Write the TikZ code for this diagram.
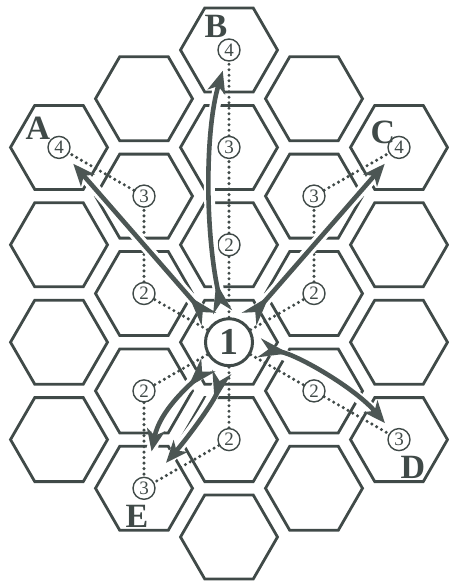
\documentclass[tikz,border=0pt]{standalone}
\usepackage{fontspec}
\setmainfont{Liberation Serif}
\usetikzlibrary{shapes.geometric,arrows.meta}
\definecolor{hexgray}{RGB}{64,74,72}
\definecolor{arrowgray}{RGB}{76,86,84}
\begin{document}
\begin{tikzpicture}[
    x=1pt, y=-1pt,
    hexcell/.style={regular polygon, regular polygon sides=6, draw=hexgray, line width=2.8pt, minimum size=97pt, inner sep=0pt},
    stepnum/.style={circle, draw=hexgray, fill=white, line width=1.4pt, minimum size=22pt, inner sep=0pt, text=hexgray, font=\fontsize{19}{19}\selectfont},
    startnum/.style={circle, draw=hexgray, fill=white, line width=3pt, minimum size=47pt, inner sep=0pt, text=hexgray, font=\fontsize{38}{38}\selectfont\bfseries},
    hexlabel/.style={inner sep=0pt, text=hexgray, font=\fontsize{34}{34}\selectfont\bfseries},
    route/.style={hexgray, line width=3.4pt, line cap=round, dash pattern=on 0pt off 5.5pt},
    move/.style={arrowgray, line width=4.6pt, shorten <=6pt, shorten >=10pt,
      {Stealth[reversed, length=30pt, width=19pt, inset=9pt]}-{Stealth[length=22pt, width=18pt, inset=6pt]},
      preaction={draw=white, line width=11pt, -}}
  ]
  \useasboundingbox (0,0) rectangle (449,582);

  % hex grid
  \foreach \col/\ytop/\num in {0/147.4/4, 1/98.7/5, 2/50/6, 3/98.7/5, 4/147.4/4}
    \foreach \row in {1,...,\num}
      \node[hexcell] (h\col\row) at ({59+85*\col}, {\ytop+97.4*(\row-1)}) {};

  % steps
  \node[startnum] (one) at (h24) {1};
  \node[stepnum] (a2) at (h13) {2};
  \node[stepnum] (a3) at (h12) {3};
  \node[stepnum] (a4) at (h01) {4};
  \node[stepnum] (b2) at (h23) {2};
  \node[stepnum] (b3) at (h22) {3};
  \node[stepnum] (b4) at (h21) {4};
  \node[stepnum] (c2) at (h33) {2};
  \node[stepnum] (c3) at (h32) {3};
  \node[stepnum] (c4) at (h41) {4};
  \node[stepnum] (d2) at (h34) {2};
  \node[stepnum] (d3) at (h44) {3};
  \node[stepnum] (e2l) at (h14) {2};
  \node[stepnum] (e2r) at (h25) {2};
  \node[stepnum] (e3) at (h15) {3};

  \node[hexlabel] (la) at (38,128) {A};
  \node[hexlabel] (lb) at (216,26) {B};
  \node[hexlabel] (lc) at (383,132) {C};
  \node[hexlabel] (ld) at (413,467) {D};
  \node[hexlabel] (le) at (137,516) {E};

  % dotted routes
  \draw[route] (one) -- (a2) -- (a3) -- (a4);
  \draw[route] (one) -- (b2) -- (b3) -- (b4);
  \draw[route] (one) -- (c2) -- (c3) -- (c4);
  \draw[route] (one) -- (d2) -- (d3);
  \draw[route] (one) -- (e2l) -- (e3);
  \draw[route] (one) -- (e2r) -- (e3);

  % moves
  \draw[move] (one) -- (a4);
  \draw[move] (one) -- (c4);
  \draw[move] (one) .. controls (205,230) and (205,130) .. (b4);
  \draw[move] (one) .. controls (298,355) and (355,388) .. (d3);
  \draw[move, shorten >=26pt] (one) .. controls (190,385) and (160,410) .. (e3);
  \draw[move, shorten >=22pt] (one) .. controls (215,400) and (190,435) .. (e3);
\end{tikzpicture}
\end{document}
